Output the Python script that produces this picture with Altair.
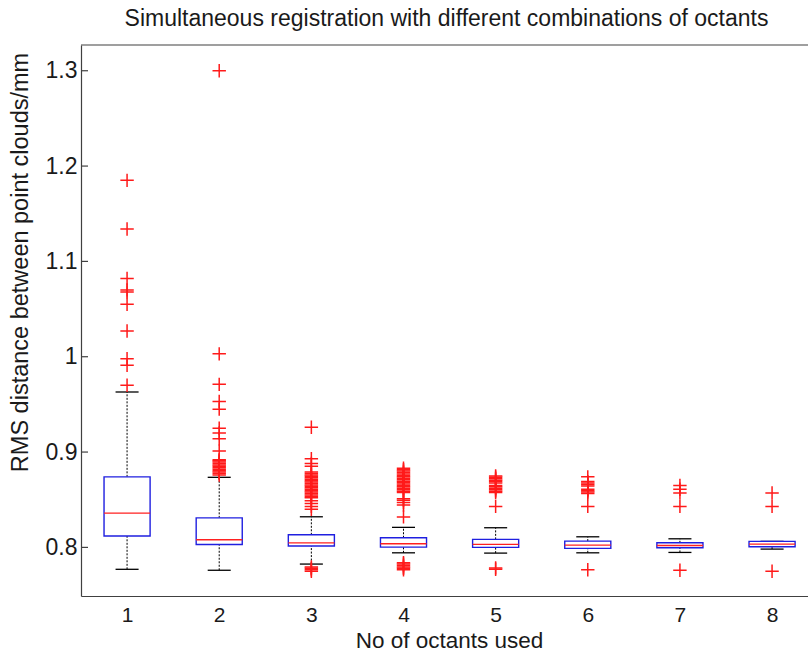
import altair as alt
import pandas as pd

# ---- data ----
groups = [1, 2, 3, 4, 5, 6, 7, 8]
whisker_low = [0.777, 0.776, 0.7825, 0.7943, 0.794, 0.7943, 0.7947, 0.7982]
q1 = [0.812, 0.803, 0.8014, 0.8003, 0.800, 0.799, 0.7996, 0.8006]
median = [0.836, 0.808, 0.8048, 0.8038, 0.8031, 0.8024, 0.802, 0.8035]
q3 = [0.874, 0.831, 0.8132, 0.8101, 0.8084, 0.8066, 0.8048, 0.8063]
whisker_high = [0.963, 0.8735, 0.8321, 0.821, 0.8206, 0.8111, 0.809, 0.8063]

outliers_1 = [1.185, 1.134, 1.082, 1.070, 1.068, 1.055, 1.027, 0.998, 0.991, 0.970]
outliers_2 = [1.300, 1.003, 0.971, 0.953, 0.945, 0.925, 0.920, 0.914, 0.901,
              0.892, 0.891, 0.8895, 0.888, 0.8865, 0.885, 0.8835, 0.882,
              0.8805, 0.879, 0.8775, 0.876]
outliers_3 = [0.926, 0.893, 0.888, 0.885, 0.879, 0.8775, 0.876, 0.8745, 0.873,
              0.8715, 0.870, 0.8685, 0.867, 0.8655, 0.864, 0.8625, 0.861,
              0.8595, 0.858, 0.8565, 0.855, 0.8535, 0.852, 0.849, 0.846,
              0.843, 0.840, 0.7795, 0.778, 0.7765, 0.775]
outliers_4 = [0.883, 0.8815, 0.880, 0.8785, 0.877, 0.8755, 0.874, 0.8725,
              0.871, 0.8695, 0.868, 0.8665, 0.865, 0.8635, 0.862, 0.8605,
              0.859, 0.8575, 0.851, 0.8495, 0.847, 0.8445, 0.832,
              0.784, 0.7825, 0.781, 0.7795, 0.778, 0.7765]
outliers_5 = [0.875, 0.8735, 0.872, 0.8705, 0.869, 0.8675, 0.865, 0.8635,
              0.862, 0.8605, 0.859, 0.8575, 0.843, 0.7785, 0.777]
outliers_6 = [0.874, 0.869, 0.8675, 0.866, 0.8645, 0.861, 0.8595, 0.858,
              0.8565, 0.843, 0.7765]
outliers_7 = [0.865, 0.861, 0.857, 0.843, 0.776]
outliers_8 = [0.857, 0.843, 0.775]
all_outliers = [outliers_1, outliers_2, outliers_3, outliers_4,
                outliers_5, outliers_6, outliers_7, outliers_8]

y_ticks = [0.8, 0.9, 1.0, 1.1, 1.2, 1.3]

title_text = "Simultaneous registration with different combinations of octants"
x_title = "No of octants used"
y_title = "RMS distance between point clouds/mm"

# ---- tables ----
stats = pd.DataFrame({
    "g": groups, "wlo": whisker_low, "q1": q1, "med": median,
    "q3": q3, "whi": whisker_high,
})
out_rows = []
for g, vals in zip(groups, all_outliers):
    for v in vals:
        out_rows.append({"g": g, "v": v})
outs = pd.DataFrame(out_rows)
ticks_df = pd.DataFrame({"t": y_ticks})

FONT = "Liberation Sans"
TXT = "#1a1a1a"
YDOM = [0.749, 1.327]
XDOM = [0.5, 8.39]
W, H = 727, 551

xs = alt.Scale(domain=XDOM, nice=False, zero=False)
ys = alt.Scale(domain=YDOM, nice=False, zero=False)

x_axis = alt.Axis(values=groups, format="d", ticks=False, grid=False,
                  domain=True, domainColor="#404040", domainWidth=1.2,
                  labelFont=FONT, labelFontSize=21, labelColor=TXT,
                  labelPadding=8, title=x_title, titleFont=FONT,
                  titleFontSize=22.5, titleFontWeight="normal", titleColor=TXT,
                  titleX=368, titleY=44, titleBaseline="middle", titleAlign="center")
y_axis = alt.Axis(values=y_ticks, format="~g", ticks=False, grid=False,
                  domain=True, domainColor="#404040", domainWidth=1.2,
                  labelFont=FONT, labelFontSize=23, labelColor=TXT,
                  labelPadding=4, title=y_title, titleFont=FONT,
                  titleFontSize=23.5, titleFontWeight="normal", titleColor=TXT,
                  titleX=-61, titleY=217, titleAngle=270,
                  titleBaseline="middle", titleAlign="center")

base = alt.Chart(stats)

whisk_hi = base.mark_rule(color="black", strokeWidth=1, strokeDash=[2, 1.5]).encode(
    x=alt.X("g:Q", scale=xs, axis=x_axis),
    y=alt.Y("q3:Q", scale=ys, axis=y_axis),
    y2="whi:Q",
)
whisk_lo = base.mark_rule(color="black", strokeWidth=1, strokeDash=[2, 1.5]).encode(
    x=alt.X("g:Q", scale=xs), y=alt.Y("wlo:Q", scale=ys), y2="q1:Q",
)
caps = base.transform_fold(["wlo", "whi"], as_=["k", "val"]).transform_calculate(
    xa="datum.g - 0.125", xb="datum.g + 0.125"
).mark_rule(color="black", strokeWidth=1.3).encode(
    x=alt.X("xa:Q", scale=xs), x2="xb:Q", y=alt.Y("val:Q", scale=ys),
)
boxes = base.transform_calculate(
    xa="datum.g - 0.25", xb="datum.g + 0.25"
).mark_rect(fill="white", stroke="#1f1fe0", strokeWidth=1.4).encode(
    x=alt.X("xa:Q", scale=xs), x2="xb:Q",
    y=alt.Y("q1:Q", scale=ys), y2="q3:Q",
)
medians = base.transform_calculate(
    xa="datum.g - 0.25", xb="datum.g + 0.25"
).mark_rule(color="#ff2020", strokeWidth=1.3).encode(
    x=alt.X("xa:Q", scale=xs), x2="xb:Q", y=alt.Y("med:Q", scale=ys),
)
points = alt.Chart(outs).mark_point(
    shape="M-1,0L1,0M0,-1L0,1", filled=False, color="#ff1a1a",
    strokeWidth=1.5, size=180, opacity=1,
).encode(
    x=alt.X("g:Q", scale=xs), y=alt.Y("v:Q", scale=ys),
)
inner_ticks = alt.Chart(ticks_df).transform_calculate(
    xa="0.5", xb="0.5 + 7 / 92.14"
).mark_rule(color="#404040", strokeWidth=1.2).encode(
    x=alt.X("xa:Q", scale=xs), x2="xb:Q", y=alt.Y("t:Q", scale=ys),
)
top_border = alt.Chart(pd.DataFrame({"a": [0]})).mark_rule(
    color="#404040", strokeWidth=1.2
).encode(
    x=alt.datum(XDOM[0], scale=xs), x2=alt.datum(XDOM[1]),
    y=alt.datum(YDOM[1], scale=ys),
)

chart = alt.layer(
    whisk_hi, whisk_lo, caps, boxes, medians, points, inner_ticks, top_border
).properties(
    width=W, height=H,
    title=alt.TitleParams(title_text, font=FONT, fontSize=23,
                          fontWeight="normal", color=TXT,
                          anchor="middle", baseline="alphabetic", offset=0,
                          dx=2, dy=5),
    autosize=alt.AutoSizeParams(type="none"),
    padding={"left": 81, "top": 45, "right": 0, "bottom": 56},
    background="white",
).configure_view(stroke=None)

chart.save("out.html", embed_options={"renderer": "svg", "actions": False})
